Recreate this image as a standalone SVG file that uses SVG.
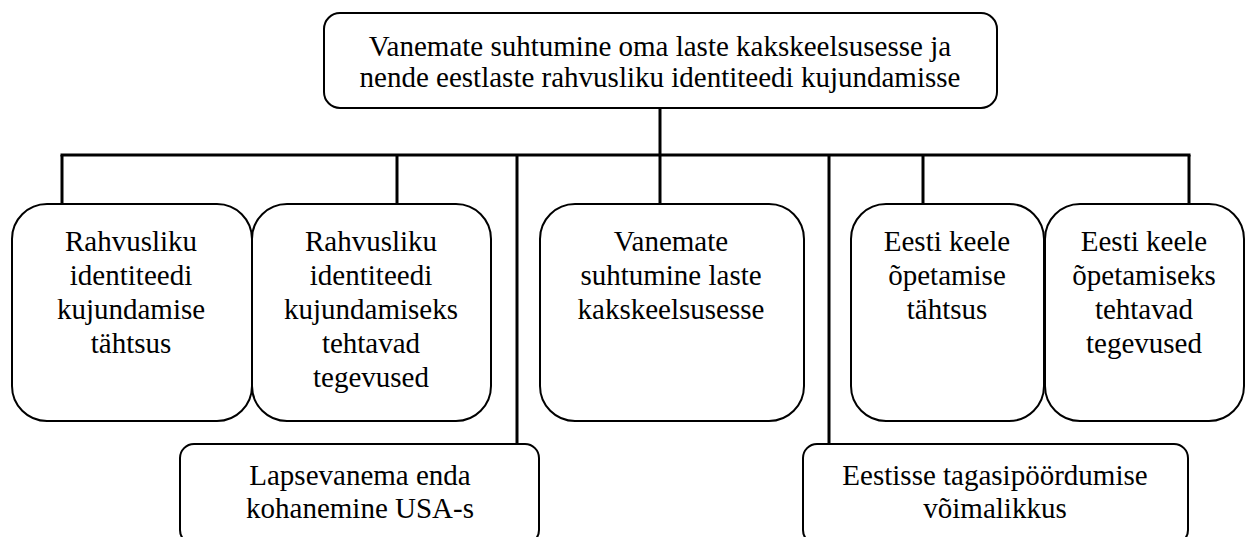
<svg xmlns="http://www.w3.org/2000/svg" width="1249" height="537" viewBox="0 0 1249 537">
<style>
.box{fill:#fff;stroke:#000;stroke-width:2}
.t{font-family:'Liberation Serif','Times New Roman',serif;font-size:29px;fill:#000;text-anchor:middle}
.c{stroke:#000;stroke-width:3;fill:none}
</style>
<rect width="1249" height="537" fill="#fff"/>
<g id="connectors">
<line class="c" x1="660" y1="108" x2="660" y2="155"/>
<line class="c" x1="60.5" y1="155" x2="1190.5" y2="155"/>
<line class="c" x1="62" y1="155" x2="62" y2="204"/>
<line class="c" x1="397" y1="155" x2="397" y2="204"/>
<line class="c" x1="517" y1="155" x2="517" y2="444"/>
<line class="c" x1="660" y1="155" x2="660" y2="204"/>
<line class="c" x1="829" y1="155" x2="829" y2="444"/>
<line class="c" x1="923" y1="155" x2="923" y2="204"/>
<line class="c" x1="1189" y1="155" x2="1189" y2="204"/>
</g>
<g id="root">
<rect class="box" x="324" y="13" width="673" height="95" rx="16"/>
<text class="t" x="660" y="56">Vanemate suhtumine oma laste kakskeelsusesse ja</text>
<text class="t" x="660" y="87">nende eestlaste rahvusliku identiteedi kujundamisse</text>
</g>
<g id="n1">
<rect class="box" x="12" y="204" width="240" height="217" rx="35"/>
<text class="t" x="131" y="251">Rahvusliku</text>
<text class="t" x="131" y="285">identiteedi</text>
<text class="t" x="131" y="319">kujundamise</text>
<text class="t" x="131" y="353">tähtsus</text>
</g>
<g id="n2">
<rect class="box" x="252" y="204" width="239" height="217" rx="35"/>
<text class="t" x="371" y="251">Rahvusliku</text>
<text class="t" x="371" y="285">identiteedi</text>
<text class="t" x="371" y="319">kujundamiseks</text>
<text class="t" x="371" y="353">tehtavad</text>
<text class="t" x="371" y="387">tegevused</text>
</g>
<g id="n3">
<rect class="box" x="540" y="204" width="264" height="217" rx="35"/>
<text class="t" x="671" y="251">Vanemate</text>
<text class="t" x="671" y="285">suhtumine laste</text>
<text class="t" x="671" y="319">kakskeelsusesse</text>
</g>
<g id="n4">
<rect class="box" x="851" y="204" width="193" height="217" rx="35"/>
<text class="t" x="947" y="251">Eesti keele</text>
<text class="t" x="947" y="285">õpetamise</text>
<text class="t" x="947" y="319">tähtsus</text>
</g>
<g id="n5">
<rect class="box" x="1045" y="204" width="199" height="217" rx="35"/>
<text class="t" x="1144" y="251">Eesti keele</text>
<text class="t" x="1144" y="285">õpetamiseks</text>
<text class="t" x="1144" y="319">tehtavad</text>
<text class="t" x="1144" y="353">tegevused</text>
</g>
<g id="n6">
<rect class="box" x="180" y="444" width="359" height="100" rx="14"/>
<text class="t" x="360" y="485">Lapsevanema enda</text>
<text class="t" x="360" y="518">kohanemine USA-s</text>
</g>
<g id="n7">
<rect class="box" x="803" y="444" width="385" height="100" rx="14"/>
<text class="t" x="995" y="485">Eestisse tagasipöördumise</text>
<text class="t" x="995" y="518">võimalikkus</text>
</g>
</svg>
